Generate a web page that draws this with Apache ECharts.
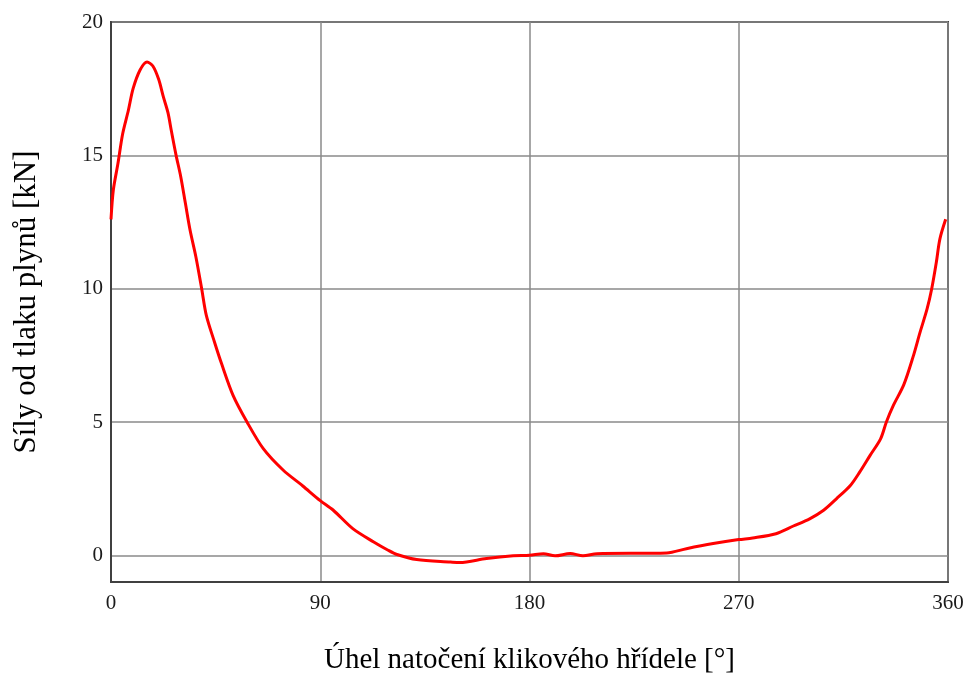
<!DOCTYPE html>
<html>
<head>
<meta charset="utf-8">
<script src="https://cdn.jsdelivr.net/npm/echarts@6/dist/echarts.min.js"></script>
<style>
  html, body { margin: 0; padding: 0; background: #fff; }
  #chart { width: 976px; height: 684px; }
</style>
</head>
<body>
<div id="chart"></div>
<script>
// uhel natoceni [deg] a sila od tlaku plynu [kN]
var angle = [0, 1, 3, 5, 7.5, 9.5, 12.5, 15.5, 18, 20.5,
    22.5, 24.5, 26, 28, 30, 32, 34, 36.5, 39, 41,
    44.5, 47.5, 52.5, 58.5, 65.5, 74, 82.5, 90, 95.5, 104,
    113, 119, 123, 131.5, 146, 150, 161.5, 173, 180, 186,
    191, 197.5, 203, 209, 239, 247.5, 259, 270, 276, 286,
    293.5, 300.5, 306.5, 312, 318, 322, 326.5, 331, 333.5, 336.5,
    341, 345, 348, 351, 353, 355, 356.5, 359];
var force = [12.6, 13.7, 14.7, 15.8, 16.7, 17.5, 18.2, 18.5, 18.35, 17.85,
    17.2, 16.6, 15.9, 15.0, 14.2, 13.2, 12.2, 11.2, 10.0, 9.0,
    8.0, 7.2, 6.0, 5.0, 4.0, 3.2, 2.6, 2.05, 1.7, 1.0,
    0.5, 0.2, 0.03, -0.16, -0.25, -0.27, -0.12, -0.02, 0, 0.06,
    -0.02, 0.07, -0.02, 0.06, 0.09, 0.25, 0.44, 0.59, 0.65, 0.81,
    1.1, 1.37, 1.69, 2.12, 2.62, 3.12, 3.75, 4.37, 5.0, 5.62,
    6.4, 7.45, 8.37, 9.24, 10.0, 11.0, 11.86, 12.6];
var yTicks = [0, 5, 10, 15, 20];

var data = angle.map(function(a, i) { return [a, force[i]]; });

var chart = echarts.init(document.getElementById('chart'));
var font = '"Liberation Serif", "DejaVu Serif", serif';

var option = {
    animation: false,
    grid: {
        left: 111,
        right: 28,
        top: 22,
        bottom: 102,
        show: true,
        borderColor: '#404040',
        borderWidth: 2
    },
    xAxis: {
        type: 'value',
        min: 0,
        max: 360,
        interval: 90,
        name: 'Úhel natočení klikového hřídele [°]',
        nameLocation: 'middle',
        nameGap: 64,
        nameTextStyle: { fontFamily: font, fontSize: 29, color: '#000' },
        axisLine: { show: true, onZero: false, lineStyle: { color: '#404040', width: 2 } },
        axisTick: { show: false },
        axisLabel: { fontFamily: font, fontSize: 21, color: '#1a1a1a', margin: 11 },
        splitLine: { show: true, lineStyle: { color: '#8a8a8a', width: 1.5 } }
    },
    yAxis: {
        type: 'value',
        min: -1,
        max: 20,
        name: 'Síly od tlaku plynů [kN]',
        nameLocation: 'middle',
        nameGap: 69,
        nameTextStyle: { fontFamily: font, fontSize: 31, color: '#000' },
        axisLine: { show: true, lineStyle: { color: '#404040', width: 2 } },
        axisTick: { show: false, customValues: yTicks },
        axisLabel: { fontFamily: font, fontSize: 21, color: '#1a1a1a', margin: 8, customValues: yTicks },
        splitLine: { show: true, lineStyle: { color: '#8a8a8a', width: 1.5 } }
    },
    series: [{
        type: 'line',
        data: data,
        showSymbol: false,
        smooth: 0.3,
        lineStyle: { color: '#ff0000', width: 3 }
    }]
};
chart.setOption(option);
</script>
</body>
</html>
